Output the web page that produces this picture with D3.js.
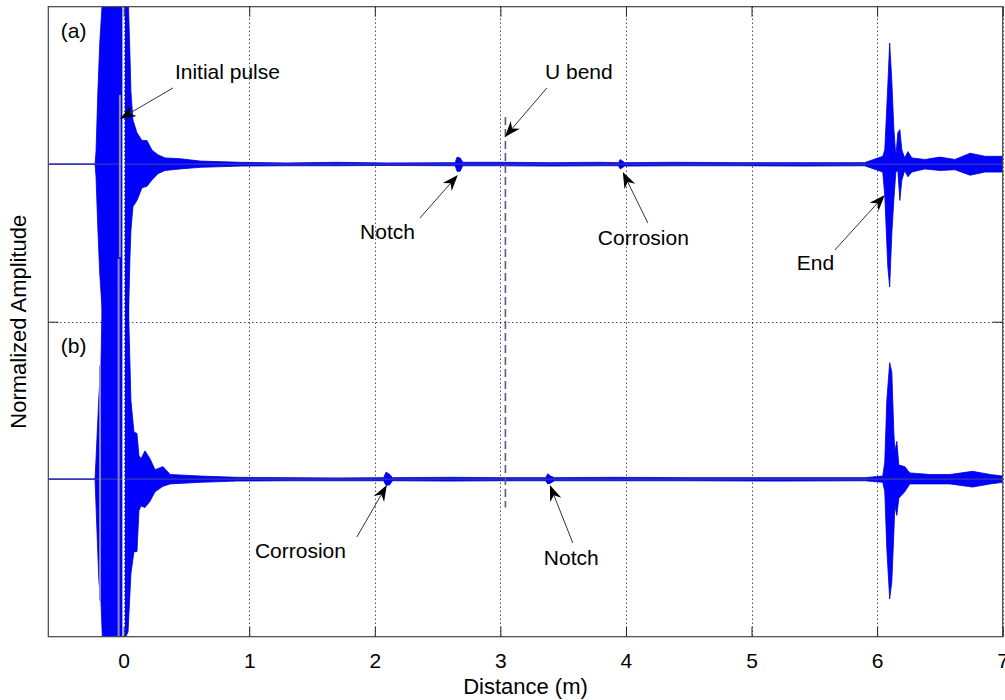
<!DOCTYPE html>
<html>
<head>
<meta charset="utf-8">
<script src="https://cdn.jsdelivr.net/npm/d3@7"></script>
<style>
  body { margin: 0; background: #fff; }
  svg { display: block; }
  text { font-family: "Liberation Sans", Arial, sans-serif; fill: #000; }
</style>
</head>
<body>
<div id="chart"></div>
<script>
// distance ticks (m)
const xTicks = [0, 1, 2, 3, 4, 5, 6, 7];

// envelope of trace (a): [distance, upper, lower], normalized amplitude
const traceA = [
  [-0.6, 0, 0], [-0.228, 0, 0], [-0.22, 0.08, -0.08], [-0.205, 0.47, -0.42],
  [-0.19, 0.77, -0.7], [-0.165, 1.1, -1.0], [-0.14, 1.1, -1.2], [-0.045, 1.1, -1.2],
  [0.035, 1.1, -1.1], [0.05, 0.7, -0.6], [0.058, 0.46, -0.42], [0.074, 0.28, -0.27],
  [0.106, 0.2, -0.23], [0.146, 0.15, -0.15], [0.186, 0.15, -0.14], [0.225, 0.09, -0.1],
  [0.273, 0.06, -0.06], [0.33, 0.04, -0.04], [0.45, 0.035, -0.03], [0.61, 0.02, -0.02],
  [0.93, 0.012, -0.012], [1.3, 0.008, -0.01], [1.7, 0.012, -0.01], [2.1, 0.008, -0.008],
  [2.64, 0.01, -0.01], [2.655, 0.045, -0.045], [2.68, 0.04, -0.045], [2.70, 0.012, -0.01],
  [3.0, 0.012, -0.01], [3.4, 0.01, -0.012], [3.8, 0.012, -0.01], [3.94, 0.01, -0.01],
  [3.955, 0.03, -0.03], [3.99, 0.01, -0.012], [4.4, 0.012, -0.01], [4.9, 0.01, -0.01],
  [5.4, 0.01, -0.012], [5.9, 0.01, -0.01], [6.045, 0.05, -0.05], [6.061, 0.09, -0.2],
  [6.085, 0.5, -0.65], [6.1, 0.77, -0.78], [6.117, 0.53, -0.44], [6.133, 0.23, -0.23],
  [6.149, 0.05, -0.05], [6.165, 0.2, -0.04], [6.181, 0.22, -0.23], [6.197, 0.09, -0.1],
  [6.22, 0.04, -0.04], [6.245, 0.08, -0.08], [6.277, 0.04, -0.05], [6.38, 0.03, -0.03],
  [6.5, 0.045, -0.04], [6.62, 0.03, -0.035], [6.74, 0.07, -0.07], [6.86, 0.05, -0.05],
  [7.0, 0.05, -0.05]
];

// envelope of trace (b)
const traceB = [
  [-0.6, 0, 0], [-0.228, 0, 0], [-0.22, 0.13, -0.17], [-0.197, 0.53, -0.65],
  [-0.181, 0.72, -0.77], [-0.165, 1.4, -1.1], [-0.045, 1.4, -1.1], [0.035, 1.2, -0.97],
  [0.058, 0.5, -0.6], [0.082, 0.3, -0.46], [0.106, 0.29, -0.46], [0.122, 0.15, -0.2],
  [0.138, 0.13, -0.17], [0.17, 0.18, -0.18], [0.21, 0.13, -0.14], [0.25, 0.06, -0.08],
  [0.313, 0.08, -0.045], [0.37, 0.03, -0.03], [0.61, 0.02, -0.02], [0.9, 0.012, -0.012],
  [1.3, 0.01, -0.01], [1.7, 0.008, -0.01], [2.07, 0.01, -0.01], [2.09, 0.045, -0.04],
  [2.12, 0.03, -0.035], [2.14, 0.01, -0.01], [2.6, 0.012, -0.012], [3.0, 0.01, -0.01],
  [3.36, 0.01, -0.01], [3.378, 0.035, -0.03], [3.40, 0.02, -0.025], [3.43, 0.01, -0.01],
  [3.9, 0.012, -0.01], [4.5, 0.01, -0.01], [5.2, 0.01, -0.012], [5.9, 0.01, -0.01],
  [6.045, 0.02, -0.02], [6.061, 0.11, -0.08], [6.077, 0.5, -0.44], [6.1, 0.74, -0.76],
  [6.117, 0.68, -0.65], [6.133, 0.3, -0.35], [6.141, 0.18, -0.17], [6.157, 0.24, -0.23],
  [6.173, 0.09, -0.12], [6.22, 0.08, -0.08], [6.26, 0.04, -0.03], [6.42, 0.03, -0.03],
  [6.58, 0.03, -0.03], [6.76, 0.05, -0.05], [6.9, 0.03, -0.03], [7.0, 0.02, -0.02]
];

// light stripes inside the dense initial pulse: [distance, lower, upper, trace, shade]
const stripes = [
  [-0.03, -0.59, 0.44, "a", "grey"],
  [-0.188, -0.77, 0.72, "b", "grey"],
  [-0.04, -1.1, 1.4, "b", "grey"],
  [0.0, -3.2, 1.2, "a", "white"]
];

const offsets = { a: 1, b: -1 };
const uBend = { x: 3.04, y0: -1.18, y1: 1.3 };

// annotations: label, text anchor, arrow tail, arrow tip (data units)
const notes = [
  { label: "Initial pulse", text: [0.408, 1.538], tail: [0.393, 1.484], tip: [-0.03, 1.287] },
  { label: "U bend", text: [3.355, 1.538], tail: [3.37, 1.484], tip: [3.036, 1.173] },
  { label: "Notch", text: [1.883, 0.525], tail: [2.359, 0.658], tip: [2.661, 0.931] },
  { label: "Corrosion", text: [3.776, 0.487], tail: [4.174, 0.627], tip: [3.975, 0.95] },
  { label: "End", text: [5.36, 0.328], tail: [5.663, 0.455], tip: [6.061, 0.804] },
  { label: "Corrosion", text: [1.045, -1.50], tail: [1.857, -1.367], tip: [2.096, -1.037] },
  { label: "Notch", text: [3.346, -1.545], tail: [3.577, -1.405], tip: [3.394, -1.037] }
];
const panels = [{ label: "(a)", at: [-0.5, 1.8] }, { label: "(b)", at: [-0.5, -0.2] }];

const width = 1005, height = 700;
const margin = { top: 6.7, right: 2.3, bottom: 63.3, left: 48.3 };

const svg = d3.select("#chart").append("svg")
  .attr("width", width).attr("height", height);

const x = d3.scaleLinear().domain([-0.6, 7]).range([margin.left, width - margin.right]);
const y = d3.scaleLinear().domain([-2, 2]).range([height - margin.bottom, margin.top]);

svg.append("clipPath").attr("id", "clip").append("rect")
  .attr("x", x(-0.6)).attr("y", y(2))
  .attr("width", x(7) - x(-0.6)).attr("height", y(-2) - y(2));

// grid
function drawGrid(sel, ticks, withH) {
  const g = sel.append("g").attr("stroke", "#000").attr("stroke-width", 1)
    .attr("stroke-dasharray", "1,3");
  g.selectAll("line.gx").data(ticks).enter().append("line")
    .attr("class", "gx")
    .attr("x1", d => Math.round(x(d)) + 0.5).attr("x2", d => Math.round(x(d)) + 0.5)
    .attr("y1", y(2)).attr("y2", y(-2));
  if (withH) g.append("line")
    .attr("x1", x(-0.6)).attr("x2", x(7))
    .attr("y1", Math.round(y(0)) + 0.5).attr("y2", Math.round(y(0)) + 0.5);
}
drawGrid(svg, xTicks, true);

// traces
const plot = svg.append("g").attr("clip-path", "url(#clip)");
[[traceA, offsets.a], [traceB, offsets.b]].forEach(([tr, off]) => {
  plot.append("path")
    .datum(tr)
    .attr("fill", "#0000ff")
    .attr("stroke", "#0000cc")
    .attr("stroke-width", 0.8)
    .attr("d", d3.area()
      .x(d => x(d[0]))
      .y0(d => y(off + d[2]))
      .y1(d => y(off + d[1])));
  plot.append("path")
    .datum(x.domain())
    .attr("fill", "none")
    .attr("stroke", "#3a3aa8")
    .attr("stroke-width", 1.2)
    .attr("d", d3.line().x(d => x(d)).y(() => y(off)));
});

plot.selectAll("line.stripe").data(stripes).enter().append("line")
  .attr("class", "stripe")
  .attr("x1", d => x(d[0])).attr("x2", d => x(d[0]))
  .attr("y1", d => y(offsets[d[3]] + d[1])).attr("y2", d => y(offsets[d[3]] + d[2]))
  .attr("stroke", d => d[4] === "white" ? "#fff" : "#8a8ab8")
  .attr("stroke-width", d => d[4] === "white" ? 2.5 : 2);
// grid line at 0 shows through the gap of the pulse
drawGrid(plot, [0], false);

// U bend dashed marker
svg.append("line")
  .attr("x1", x(uBend.x)).attr("x2", x(uBend.x))
  .attr("y1", y(uBend.y1)).attr("y2", y(uBend.y0))
  .attr("stroke", "#5a5a88").attr("stroke-width", 1.6)
  .attr("stroke-dasharray", "8,4");

// axes box
const box = svg.append("g");
box.append("rect")
  .attr("x", x(-0.6)).attr("y", y(2))
  .attr("width", x(7) - x(-0.6)).attr("height", y(-2) - y(2))
  .attr("fill", "none").attr("stroke", "#444").attr("stroke-width", 1.2);

const xAxis = svg.append("g")
  .attr("transform", `translate(0,${y(-2)})`)
  .call(d3.axisBottom(x).tickValues(xTicks).tickSize(-10).tickPadding(16).tickFormat(d3.format("d")));
xAxis.select(".domain").remove();
xAxis.selectAll("line").attr("stroke", "#222");
xAxis.selectAll("text").attr("font-size", 21).attr("font-family", "Liberation Sans, Arial, sans-serif");

svg.append("g")
  .attr("transform", `translate(0,${y(2)})`)
  .call(d3.axisTop(x).tickValues(xTicks).tickSize(-10).tickFormat(""))
  .call(g => g.select(".domain").remove())
  .selectAll("line").attr("stroke", "#222");

svg.append("g")
  .attr("transform", `translate(${x(-0.6)},0)`)
  .call(d3.axisLeft(y).tickValues([0]).tickSize(-10).tickFormat(""))
  .call(g => g.select(".domain").remove())
  .selectAll("line").attr("stroke", "#222");
svg.append("g")
  .attr("transform", `translate(${x(7)},0)`)
  .call(d3.axisRight(y).tickValues([0]).tickSize(-10).tickFormat(""))
  .call(g => g.select(".domain").remove())
  .selectAll("line").attr("stroke", "#222");

// axis labels
svg.append("text")
  .attr("x", (x(-0.6) + x(7)) / 2).attr("y", 694)
  .attr("text-anchor", "middle").attr("font-size", 22)
  .text("Distance (m)");
svg.append("text")
  .attr("transform", `translate(26,${y(0)}) rotate(-90)`)
  .attr("text-anchor", "middle").attr("font-size", 22)
  .text("Normalized Amplitude");

// panel labels
svg.selectAll(".panel").data(panels).enter().append("text")
  .attr("x", d => x(d.at[0])).attr("y", d => y(d.at[1]))
  .attr("font-size", 21)
  .text(d => d.label);

// annotations
const ann = svg.append("g");
notes.forEach(n => {
  const tx = x(n.tail[0]), ty = y(n.tail[1]);
  const px = x(n.tip[0]), py = y(n.tip[1]);
  const ang = Math.atan2(py - ty, px - tx);
  const L = 16, W = 6, back = 11;
  const ux = Math.cos(ang), uy = Math.sin(ang);
  const nx = -uy, ny = ux;
  const bx = px - ux * L, by = py - uy * L;
  const mx = px - ux * back, my = py - uy * back;
  ann.append("line")
    .attr("x1", tx).attr("y1", ty).attr("x2", mx).attr("y2", my)
    .attr("stroke", "#333").attr("stroke-width", 1);
  ann.append("path")
    .attr("d", `M${px},${py}L${bx + nx * W},${by + ny * W}L${mx},${my}L${bx - nx * W},${by - ny * W}Z`)
    .attr("fill", "#000");
  ann.append("text")
    .attr("x", x(n.text[0])).attr("y", y(n.text[1]))
    .attr("font-size", 21)
    .text(n.label);
});
</script>
</body>
</html>
